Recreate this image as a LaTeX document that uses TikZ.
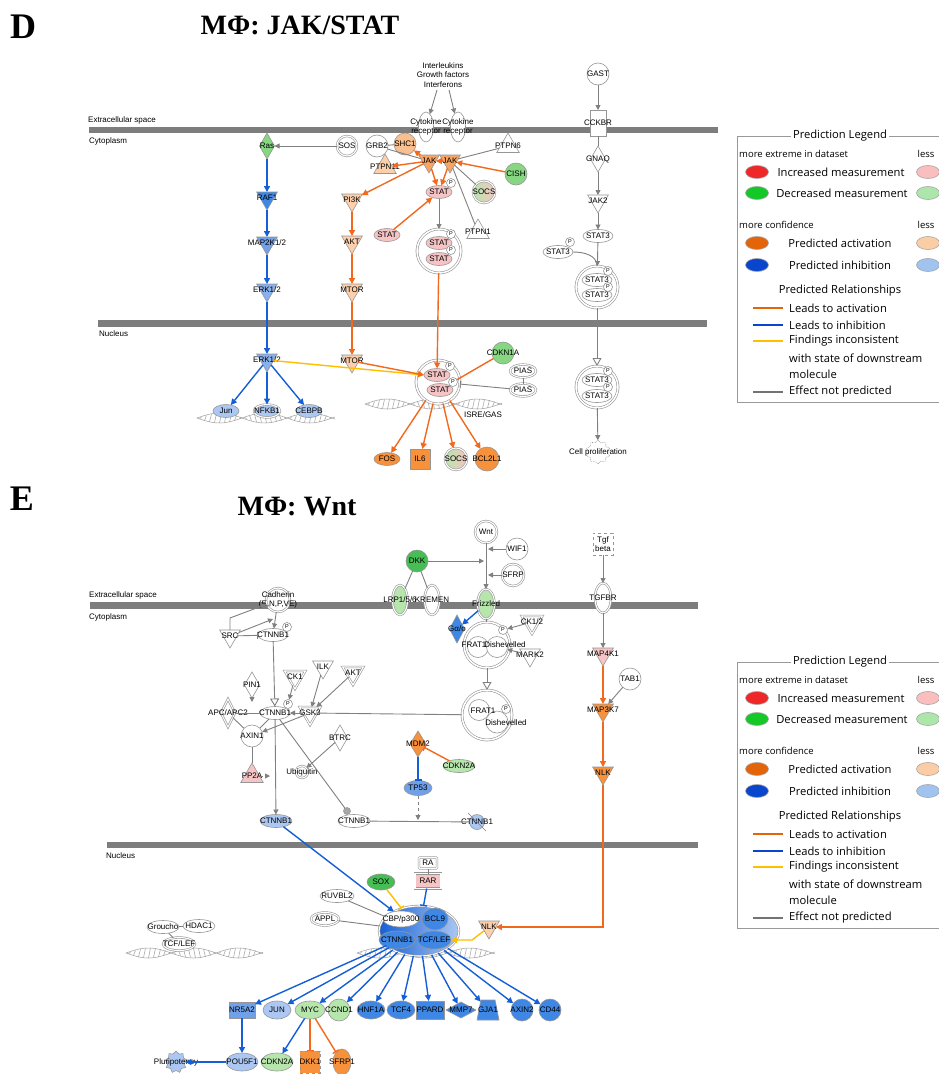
\documentclass[tikz,border=0pt]{standalone}
\usepackage{fontspec}
\setmainfont{Liberation Sans}
\newfontfamily\serifb{Liberation Serif}
\newfontfamily\legf{Open Sans}
\usetikzlibrary{shapes.geometric,arrows.meta,calc}
\definecolor{ndgray}{RGB}{150,150,150}
\definecolor{eg}{RGB}{128,128,128}
\definecolor{memb}{RGB}{125,125,125}
\definecolor{eo}{RGB}{242,105,30}
\definecolor{eb}{RGB}{20,95,215}
\definecolor{ey}{RGB}{255,190,0}
\definecolor{pinkL}{RGB}{246,196,196}
\definecolor{orngL}{RGB}{252,208,172}
\definecolor{orngM}{RGB}{248,165,100}
\definecolor{orngD}{RGB}{247,145,60}
\definecolor{grnL}{RGB}{182,230,172}
\definecolor{grnM}{RGB}{135,215,130}
\definecolor{grnD}{RGB}{70,190,85}
\definecolor{bluL}{RGB}{172,200,242}
\definecolor{bluM}{RGB}{112,160,232}
\definecolor{bluD}{RGB}{62,135,228}
\definecolor{lgRed}{RGB}{238,40,40}
\definecolor{lgRedL}{RGB}{250,190,190}
\definecolor{lgGrn}{RGB}{20,200,40}
\definecolor{lgGrnL}{RGB}{172,230,170}
\definecolor{lgOrn}{RGB}{228,100,10}
\definecolor{lgOrnL}{RGB}{251,205,165}
\definecolor{lgBlu}{RGB}{10,70,205}
\definecolor{lgBluL}{RGB}{160,195,240}
\tikzset{
  nb/.style={draw=ndgray, line width=0.6pt, inner sep=0pt, outer sep=0pt},
  every label/.style={font=\fontsize{8}{9}\selectfont, inner sep=0pt, align=center, text=black},
  txt/.style={font=\fontsize{8}{9.5}\selectfont, inner sep=0pt, align=center},
  el/.style={nb, ellipse, minimum width=26, minimum height=13, fill=white},
  ci/.style={nb, circle, minimum size=22, fill=white},
  tri/.style={nb, regular polygon, regular polygon sides=3, shape border rotate=180, minimum size=24, fill=white},
  trup/.style={nb, regular polygon, regular polygon sides=3, minimum size=26, fill=white},
  dia/.style={nb, diamond, minimum width=15, minimum height=26, fill=white},
  sq/.style={nb, rectangle, minimum width=20, minimum height=20, fill=white},
  dbl/.style={double=white, double distance=1.1pt},
  cx/.style={nb, circle, double=white, double distance=1.5pt, fill=white},
  pp/.style={nb, circle, minimum size=9, fill=white, font=\fontsize{5.5}{6}\selectfont},
  ge/.style={draw=eg, line width=0.9pt, -{Triangle[length=5pt,width=5pt]}},
  gl/.style={draw=eg, line width=0.9pt},
  gopen/.style={draw=eg, line width=0.9pt, -{Triangle[open,length=8pt,width=9pt]}},
  gbar/.style={draw=eg, line width=0.9pt, -{Bar[width=7pt]}},
  oe/.style={draw=eo, line width=1.4pt, -{Triangle[length=6pt,width=6pt]}},
  ol/.style={draw=eo, line width=1.4pt},
  obar/.style={draw=eo, line width=1.4pt, -{Bar[width=7pt]}},
  be/.style={draw=eb, line width=1.4pt, -{Triangle[length=6pt,width=6pt]}},
  bbar/.style={draw=eb, line width=1.4pt, -{Bar[width=7pt]}},
  ye/.style={draw=ey, line width=1.4pt, -{Triangle[length=6pt,width=6pt]}},
  ybar/.style={draw=ey, line width=1.4pt, -{Bar[width=7pt]}},
  helixc/.style={draw=gray!75, line width=0.5pt},
  legt/.style={font=\legf\fontsize{11.2}{13}\selectfont, inner sep=0pt},
  legs/.style={font=\legf\fontsize{9.5}{11}\selectfont, inner sep=0pt},
  lov/.style={ellipse, draw=gray!70, line width=0.6pt, minimum width=23, minimum height=13, inner sep=0pt},
  lgln/.style={line width=2.8pt},
  ttlf/.style={font=\serifb\bfseries\fontsize{28}{28}\selectfont, inner sep=0pt},
  bigl/.style={font=\serifb\bfseries\fontsize{36}{36}\selectfont, inner sep=0pt}
}
\newcommand{\dnahelix}[3]{%
  \draw[helixc] plot[domain=#1:#2, samples=90, smooth] (\x,{#3+5*sin((\x-#1)*4)});
  \draw[helixc] plot[domain=#1:#2, samples=90, smooth] (\x,{#3-5*sin((\x-#1)*4)});
  \pgfmathtruncatemacro\hnr{(#2-#1)/5}%
  \foreach \k in {1,...,\hnr}{%
    \pgfmathsetmacro\hxx{#1+5*\k-2.5}%
    \pgfmathsetmacro\hyy{5*sin((\hxx-#1)*4)}%
    \draw[helixc] (\hxx,{#3+\hyy}) -- (\hxx+2,{#3-\hyy});}%
}
\newcommand{\predlegend}[1]{%
  \draw[draw=gray!80, line width=0.8pt] (737,136) rectangle (960,402);
  \node[legt, fill=white, inner xsep=2pt] (#1ttl) at (840,136) {Prediction Legend};
  \node[legs, anchor=west] (#1me) at (739,154) {more extreme in dataset};
  \node[legs] (#1ls1) at (926,154) {less};
  \node[lov, fill=lgRed] (#1o1) at (757,172) {};
  \node[legt] (#1t1) at (841,172) {Increased measurement};
  \node[lov, fill=lgRedL] (#1o1l) at (928,172) {};
  \node[lov, fill=lgGrn] (#1o2) at (757,193) {};
  \node[legt] (#1t2) at (842,193) {Decreased measurement};
  \node[lov, fill=lgGrnL] (#1o2l) at (928,193) {};
  \node[legs, anchor=west] (#1mc) at (739,225) {more confidence};
  \node[legs] (#1ls2) at (926,225) {less};
  \node[lov, fill=lgOrn] (#1o3) at (757,243) {};
  \node[legt] (#1t3) at (840,243) {Predicted activation};
  \node[lov, fill=lgOrnL] (#1o3l) at (928,243) {};
  \node[lov, fill=lgBlu] (#1o4) at (757,265) {};
  \node[legt] (#1t4) at (840,265) {Predicted inhibition};
  \node[lov, fill=lgBluL] (#1o4l) at (928,265) {};
  \node[legt] (#1pr) at (840,291) {Predicted Relationships};
  \draw[lgln, draw=lgOrn] (753,308) -- (783,308);
  \node[legt, anchor=west] (#1r1) at (789,308) {Leads to activation};
  \draw[lgln, draw=lgBlu] (753,325) -- (783,325);
  \node[legt, anchor=west] (#1r2) at (789,325) {Leads to inhibition};
  \draw[lgln, draw=ey] (753,341) -- (783,341);
  \node[legt, anchor=west] (#1r3) at (789,341) {Findings inconsistent};
  \node[legt, anchor=west] (#1r3b) at (789,358) {with state of downstream};
  \node[legt, anchor=west] (#1r3c) at (789,374) {molecule};
  \draw[lgln, draw=gray!90!black] (753,392) -- (783,392);
  \node[legt, anchor=west] (#1r4) at (789,392) {Effect not predicted};
}
\begin{document}
\begin{tikzpicture}[x=1pt,y=-1pt]
\useasboundingbox (0,0) rectangle (938,1074);
\fill[white] (0,0) rectangle (938,1074);

% ================= PANEL D =================
\node[bigl] (lblD) at (23,27) {D};
\node[ttlf] (ttlD) at (300,25) {MΦ: JAK/STAT};
\fill[memb] (89,127) rectangle (718,133);
\node[txt, anchor=west] (ecsD) at (88,120) {Extracellular space};
\node[txt, anchor=west] (cytD) at (89,141) {Cytoplasm};
\fill[memb] (98,320) rectangle (707,327);
\node[txt, anchor=west] (nucD) at (99,334) {Nucleus};
\dnahelix{197}{335}{418}
\dnahelix{365}{502}{404}

\node[dia, fill=grnM, label=center:Ras] (ras) at (267,146) {};
\node[ci, dbl, minimum size=20, label=center:SOS] (sos) at (347,146) {};
\node[ci, label=center:GRB2] (grb2) at (377,146) {};
\node[ci, fill=orngL!60!orngM, label=center:SHC1] (shc1) at (405,144) {};
\node[trup, fill=orngL, label=center:PTPN11] (ptpn11) at (385,167) {};
\node[el, minimum width=15, minimum height=30, label={center:{Cytokine\\receptor}}] (cr1) at (426,127) {};
\node[el, minimum width=15, minimum height=30, label={center:{Cytokine\\receptor}}] (cr2) at (458,127) {};
\node[txt] (ilg) at (443,75) {Interleukins\\Growth factors\\Interferons};
\coordinate (ilg1) at (437,90);
\coordinate (ilg2) at (449,90);
\node[tri, fill=orngM, label=center:JAK] (jak1) at (429,161) {};
\node[tri, fill=orngM, label=center:JAK] (jak2) at (450,161) {};
\node[trup, label=center:PTPN6] (ptpn6) at (508,146) {};
\node[ci, fill=grnM, label=center:CISH] (cish) at (516,174) {};
\node[ci, dbl, left color=grnL, right color=pinkL, label=center:SOCS] (socs1) at (484,192) {};
\node[trup, label=center:PTPN1] (ptpn1) at (478,232) {};
\node[el, fill=pinkL, label=center:STAT] (stat1) at (439,192) {};
\node[pp] (p1) at (451,183) {P};
\node[el, fill=pinkL, label=center:STAT] (stat2) at (387,235) {};
\node[cx, minimum size=44] (cxA) at (439,251) {};
\node[el, fill=pinkL, label=center:STAT] (sa1) at (439,243) {};
\node[el, fill=pinkL, label=center:STAT] (sa2) at (439,259) {};
\node[pp] (pa1) at (451,234) {P};
\node[pp] (pa2) at (451,250) {P};
\node[tri, fill=orngL, label=center:PI3K] (pi3k) at (352,200) {};
\node[tri, fill=orngL, label=center:AKT] (aktD) at (352,242) {};
\node[tri, fill=orngL, label=center:MTOR] (mtor1) at (352,290) {};
\node[tri, fill=bluD, label=center:RAF1] (raf1) at (267,198) {};
\node[tri, fill=bluM, label=center:MAP2K1/2] (map2k) at (267,243) {};
\node[tri, fill=bluM!60!bluL, label=center:ERK1/2] (erk1) at (267,290) {};
\node[tri, fill=bluM!60!bluL, label=center:ERK1/2] (erk2) at (267,360) {};
\node[tri, fill=orngL, label=center:MTOR] (mtor2) at (352,361) {};
\node[el, fill=bluL, label=center:Jun] (jun) at (226,411) {};
\node[el, dbl, fill=bluL, label=center:NFKB1] (nfkb1) at (267,411) {};
\node[el, fill=bluL, label=center:CEBPB] (cebpb) at (309,411) {};
\node[cx, minimum size=44] (cxB) at (438,382) {};
\node[el, fill=pinkL, label=center:STAT] (sb1) at (437,375) {};
\node[el, fill=pinkL, label=center:STAT] (sb2) at (440,390) {};
\node[pp] (pb1) at (450,366) {P};
\node[pp] (pb2) at (453,382) {P};
\node[ci, fill=grnM, label=center:CDKN1A] (cdkn1a) at (503,353) {};
\node[el, dbl, label=center:PIAS] (pias1) at (523,371) {};
\node[el, dbl, label=center:PIAS] (pias2) at (523,390) {};
\node[txt] (isre) at (483,415) {ISRE/GAS};
\node[el, fill=orngD, label=center:FOS] (fos) at (387,459) {};
\node[sq, fill=orngD, label=center:IL6] (il6) at (420,459) {};
\node[ci, dbl, left color=grnL, right color=pinkL, label=center:SOCS] (socs2) at (456,459) {};
\node[ci, fill=orngD, minimum size=24, label=center:BCL2L1] (bcl2l1) at (487,459) {};
\node[ci, label=center:GAST] (gast) at (598,74) {};
\node[sq, minimum width=16, minimum height=26, label=center:CCKBR] (cckbr) at (598,123) {};
\node[dia, label=center:GNAQ] (gnaq) at (598,159) {};
\node[tri, label=center:JAK2] (jak2b) at (598,201) {};
\node[el, minimum width=30, label=center:STAT3] (stat3a) at (598,236) {};
\node[el, minimum width=30, label=center:STAT3] (stat3p) at (558,252) {};
\node[pp] (p3) at (570,242) {P};
\node[cx, minimum size=42] (cxC) at (597,287) {};
\node[el, minimum width=30, label=center:STAT3] (sc1) at (597,280) {};
\node[el, minimum width=30, label=center:STAT3] (sc2) at (597,295) {};
\node[pp] (pc1) at (608,271) {P};
\node[pp] (pc2) at (608,287) {P};
\node[cx, minimum size=42] (cxD) at (597,387) {};
\node[el, minimum width=30, label=center:STAT3] (sd1) at (597,380) {};
\node[el, minimum width=30, label=center:STAT3] (sd2) at (597,396) {};
\node[pp] (pd1) at (608,371) {P};
\node[pp] (pd2) at (608,387) {P};
\node[nb, star, star points=10, star point ratio=1.25, densely dotted, minimum size=24, fill=white, label=center:Cell proliferation] (cellp) at (598,452) {};

% edges D
\draw[ge] (ilg1) -- (cr1);
\draw[ge] (ilg2) -- (cr2);
\draw[ge] (sos) -- (ras);
\draw[gl] (grb2) -- (shc1);
\draw[gl] (grb2) -- (jak1);
\draw[oe] (jak1) -- (shc1);
\draw[oe] (jak1) -- (ptpn11);
\draw[oe] (jak1) -- (pi3k);
\draw[oe] (jak2) -- (jak1);
\draw[oe] (jak1) -- (stat1);
\draw[oe] (jak2) -- (stat1);
\draw[oe] (cish) -- (jak2);
\draw[gl] (ptpn6) -- (jak2);
\draw[gl] (socs1) -- (jak2);
\draw[gl] (ptpn1) -- (jak2);
\draw[oe] (stat2) -- (stat1);
\draw[ge] (stat1) -- (cxA);
\draw[oe] (cxA) -- (sb1);
\draw[be] (ras) -- (raf1);
\draw[be] (raf1) -- (map2k);
\draw[be] (map2k) -- (erk1);
\draw[be] (erk1) -- (erk2);
\draw[be] (erk2) -- (jun);
\draw[be] (erk2) -- (nfkb1);
\draw[be] (erk2) -- (cebpb);
\draw[oe] (pi3k) -- (aktD);
\draw[oe] (aktD) -- (mtor1);
\draw[oe] (mtor1) -- (mtor2);
\draw[ye] (erk2) -- (sb1.west);
\draw[oe] (mtor2) -- (sb1.west);
\draw[ol] (cdkn1a) -- (pb2);
\draw[gl] (pias1) -- (pias2);
\draw[gbar] (pias2) -- (cxB);
\draw[oe] (cxB) -- (fos);
\draw[oe] (cxB) -- (il6);
\draw[oe] (cxB) -- (socs2);
\draw[oe] (cxB) -- (bcl2l1);
\draw[ge] (gast) -- (cckbr);
\draw[gl] (cckbr) -- (gnaq);
\draw[ge] (gnaq) -- (jak2b);
\draw[ge] (jak2b) -- (stat3a);
\draw[ge] (stat3a) -- (cxC);
\draw[gl] (stat3p.east) to[out=0,in=90] (cxC.north);
\draw[gopen] (cxC) -- (cxD);
\draw[ge] (cxD) -- (cellp);

\predlegend{a}

% ================= PANEL E =================
\node[bigl] (lblE) at (22,499) {E};
\node[ttlf] (ttlE) at (297,507) {MΦ: Wnt};
\fill[memb] (90,602) rectangle (698,609);
\node[txt, anchor=west] (ecsE) at (89,595) {Extracellular space};
\node[txt, anchor=west] (cytE) at (89,617) {Cytoplasm};
\fill[memb] (107,842) rectangle (698,848);
\node[txt, anchor=west] (nucE) at (106,856) {Nucleus};
\dnahelix{126}{263}{953}
\dnahelix{357}{495}{953}

\node[ci, dbl, minimum size=24, label={center:{Cadherin\\(E,N,P,VE)}}] (cad) at (278,600) {};
\node[tri, label=center:SRC] (src) at (230,636) {};
\node[el, minimum width=30, label=center:CTNNB1] (ctnP) at (273,635) {};
\node[pp] (pP) at (287,627) {P};
\node[dia, label=center:PIN1] (pin1) at (252,685) {};
\node[tri, dbl, label=center:CK1] (ck1) at (295,677) {};
\node[tri, label=center:ILK] (ilk) at (323,667) {};
\node[tri, dbl, label=center:AKT] (aktE) at (353,673) {};
\node[dia, dbl, minimum width=14, minimum height=28, label=center:APC/APC2] (apc) at (228,713) {};
\node[el, minimum width=30, label=center:CTNNB1] (ctnC) at (275,713) {};
\node[pp] (pC) at (288,704) {P};
\node[tri, dbl, label=center:GSK3] (gsk3) at (310,713) {};
\node[ci, label=center:AXIN1] (axin1) at (252,736) {};
\node[dia, label=center:BTRC] (btrc) at (340,738) {};
\node[trup, fill=pinkL, label=center:PP2A] (pp2a) at (252,776) {};
\node[ci, dbl, minimum size=12, label=center:Ubiquitin] (ubq) at (302,772) {};
\node[el, fill=bluL, minimum width=32, label=center:CTNNB1] (ctnB) at (276,821) {};
\node[nb, circle, fill=gray!70, minimum size=7] (degr) at (347,811) {};
\node[el, minimum width=32, label=center:CTNNB1] (ctnW) at (354,821) {};
\node[ci, fill=bluL, minimum size=15, label=center:CTNNB1] (ctnX) at (477,822) {};
\draw[eg, line width=0.6pt] ($(ctnX)+(-9,-9)$) -- ($(ctnX)+(9,9)$);
\node[dia, fill=orngD, minimum width=16, label=center:MDM2] (mdm2) at (418,744) {};
\node[el, fill=grnL, minimum width=32, label=center:CDKN2A] (cdkn2a) at (459,766) {};
\node[el, fill=bluM, minimum width=28, minimum height=15, label=center:TP53] (tp53) at (418,788) {};
\node[ci, dbl, label=center:Wnt] (wnt) at (486,532) {};
\node[ci, label=center:WIF1] (wif1) at (517,549) {};
\node[ci, dbl, label=center:SFRP] (sfrp) at (513,575) {};
\node[ci, fill=grnD, label=center:DKK] (dkk) at (417,561) {};
\node[el, dbl, fill=grnL, minimum width=15, minimum height=30, label=center:LRP1/5/6] (lrp) at (400,600) {};
\node[el, dbl, minimum width=15, minimum height=30, label=center:KREMEN] (krem) at (432,600) {};
\node[el, dbl, fill=grnL, minimum width=17, minimum height=30, label=center:Frizzled] (frz) at (486,604) {};
\node[dia, fill=bluD, minimum width=15, minimum height=28, label=center:Gα/o] (gao) at (457,629) {};
\node[cx, minimum size=46] (cx1) at (487,645) {};
\node[nb, circle, minimum size=21, fill=white] (fr1) at (478,647) {};
\node[nb, circle, minimum size=21, fill=white] (ds1) at (497,647) {};
\node[txt] (fr1t) at (474,645) {FRAT1};
\node[txt] (ds1t) at (505,645) {Dishevelled};
\node[pp] (pE1) at (503,630) {P};
\node[tri, dbl, label=center:CK1/2] (ck12) at (532,622) {};
\node[tri, label=center:MARK2] (mark2) at (530,655) {};
\node[cx, minimum size=50] (cx2) at (487,715) {};
\node[nb, circle, minimum size=21, fill=white] (fr2) at (479,710) {};
\node[nb, circle, minimum size=22, fill=white] (ds2) at (497,722) {};
\node[txt] (fr2t) at (483,711) {FRAT1};
\node[txt] (ds2t) at (506,723) {Dishevelled};
\node[pp] (pE2) at (506,709) {P};
\node[sq, dashed, minimum width=20, minimum height=22, label={center:{Tgf\\beta}}] (tgfb) at (603,544) {};
\node[el, dbl, minimum width=16, minimum height=30, label=center:TGFBR] (tgfbr) at (603,598) {};
\node[tri, fill=pinkL, label=center:MAP4K1] (map4k1) at (603,654) {};
\node[ci, label=center:TAB1] (tab1) at (630,679) {};
\node[tri, fill=orngD, label=center:MAP3K7] (map3k7) at (603,710) {};
\node[tri, fill=orngD, label=center:NLK] (nlk1) at (603,773) {};
\node[tri, fill=orngL, label=center:NLK] (nlk2) at (489,927) {};
\node[nb, rectangle, dbl, fill=white, rounded corners=1pt, minimum width=18, minimum height=11, label=center:RA] (ra) at (428,863) {};
\node[nb, rectangle, dbl, fill=pinkL, minimum width=26, minimum height=15, label=center:RAR] (rar) at (428,881) {};
\node[el, fill=grnD, minimum width=28, minimum height=16, label=center:SOX] (sox) at (381,882) {};
\node[el, minimum width=34, label=center:RUVBL2] (ruvbl2) at (337,896) {};
\node[el, dbl, minimum width=28, label=center:APPL] (appl) at (325,919) {};
\node[nb, ellipse, dbl, left color=eb, right color=bluL, minimum width=80, minimum height=50] (bigcx) at (419,931) {};
\node[el, minimum width=36, minimum height=16, label=center:CBP/p300] (cbp) at (401,919) {};
\node[el, fill=bluD, minimum width=26, minimum height=22, label=center:BCL9] (bcl9) at (435,919) {};
\node[el, fill=bluD, minimum width=36, minimum height=18, label=center:CTNNB1] (ctnb) at (397,940) {};
\node[el, fill=bluD, minimum width=34, minimum height=18, label=center:TCF/LEF] (tcf) at (434,940) {};
\node[el, minimum width=32, label=center:Groucho] (groucho) at (163,927) {};
\node[el, minimum width=32, label=center:HDAC1] (hdac1) at (199,926) {};
\node[el, dbl, minimum width=32, label=center:TCF/LEF] (tcf2) at (179,944) {};
% targets
\node[sq, fill=bluM, minimum width=26, minimum height=16, label=center:NR5A2] (nr5a2) at (242,1010) {};
\node[el, fill=bluL, minimum width=28, minimum height=18, label=center:JUN] (jun2) at (277,1010) {};
\node[el, fill=grnL, minimum width=30, minimum height=18, label=center:MYC] (myc) at (310,1010) {};
\node[ci, fill=grnL, label=center:CCND1] (ccnd1) at (339,1010) {};
\node[el, fill=bluD, minimum width=28, minimum height=18, label=center:HNF1A] (hnf1a) at (371,1010) {};
\node[el, fill=bluD, minimum width=28, minimum height=18, label=center:TCF4] (tcf4) at (401,1010) {};
\node[sq, fill=bluD, minimum width=28, minimum height=18, label=center:PPARD] (ppard) at (430,1010) {};
\node[nb, diamond, fill=bluD, minimum width=30, minimum height=16, label=center:MMP7] (mmp7) at (461,1010) {};
\node[nb, trapezium, trapezium stretches=true, trapezium left angle=75, trapezium right angle=75, inner sep=2pt, fill=bluD, minimum width=22, minimum height=20, label=center:GJA1] (gja1) at (488,1010) {\phantom{x}};
\node[ci, fill=bluD, label=center:AXIN2] (axin2) at (522,1010) {};
\node[ci, fill=bluD, label=center:CD44] (cd44) at (550,1010) {};
\node[nb, star, star points=9, star point ratio=1.3, fill=bluL, minimum size=22, label=center:Pluripotency] (plur) at (176,1062) {};
\node[el, fill=bluL, minimum width=32, minimum height=18, label=center:POU5F1] (pou5f1) at (242,1062) {};
\node[el, fill=grnL, minimum width=32, minimum height=18, label=center:CDKN2A] (cdkn2a2) at (277,1062) {};
\node[sq, dashed, fill=orngD, minimum width=20, minimum height=22, label=center:DKK1] (dkk1) at (310,1062) {};
\node[el, fill=orngD, minimum width=18, minimum height=26, label=center:SFRP1] (sfrp1) at (342,1062) {};

% edges E
\coordinate (wj1) at (488,549);
\coordinate (wj2) at (488,575);
\coordinate (wj3) at (484,561);
\draw[ge] (wnt) -- (frz);
\draw[ge] (wif1) -- (wj1);
\draw[ge] (sfrp) -- (wj2);
\draw[ge] (dkk) -- (wj3);
\draw[gl] (dkk) -- (lrp);
\draw[gl] (dkk) -- (krem);
\draw[be] (frz) -- (gao);
\draw[gl] (frz) -- (cx1);
\draw[ge] (ck12) -- (pE1);
\draw[ge] (mark2) -- (ds1);
\draw[gopen] (cx1) -- (cx2);
\draw[gl] (gsk3) -- (cx2);
\coordinate (srcc) at (230,618);
\coordinate (srcj) at (273,619);
\draw[ge] (src.north) -- (srcc) -- (cad);
\draw[ge] (src) -- (srcj);
\draw[gbar] (src) -- (ctnP);
\draw[ge] (cad) -- (ctnP);
\draw[gopen] (ctnP) -- (ctnC);
\coordinate (pinj) at (252,702);
\draw[ge] (pin1) -- (pinj);
\draw[ge] (ck1) -- (pC);
\draw[ge] (ilk) -- (gsk3);
\draw[ge] (aktE) -- (gsk3);
\draw[ge] (gsk3) -- (ctnC);
\draw[ge] (gsk3) -- (axin1);
\draw[gl] (apc) -- (ctnC);
\draw[gl] (apc) -- (axin1);
\draw[gl] (ctnC) -- (axin1);
\draw[gl] (axin1) -- (pp2a);
\coordinate (ppj) at (270,776);
\draw[ge, dashed] (pp2a) -- (ppj);
\draw[ge] (btrc) -- (ubq);
\draw[ge] (ctnC) -- (ctnB);
\draw[gl] (ctnC) -- (degr);
\draw[gl] (ctnW) -- (ctnX);
\draw[obar] (cdkn2a) -- (mdm2);
\draw[bbar] (mdm2) -- (tp53);
\coordinate (tpj) at (418,820);
\draw[ge, dashed] (tp53) -- (tpj);
\draw[be] (ctnB) -- (bigcx);
\draw[ge] (tgfb) -- (tgfbr);
\draw[ge] (tgfbr) -- (map4k1);
\draw[oe] (map4k1) -- (map3k7);
\draw[ge] (tab1) -- (map3k7);
\draw[oe] (map3k7) -- (nlk1);
\draw[oe] (nlk1) |- (nlk2);
\coordinate (yj) at (472,940);
\draw[ye] (nlk2) -- (yj) -- (tcf);
\draw[gl] (ra) -- (rar);
\draw[bbar] (rar) -- (bigcx);
\draw[ybar] (sox) -- (bigcx);
\draw[gl] (ruvbl2) -- (bigcx);
\draw[gl] (appl) -- (bigcx);
\draw[gl] (groucho) -- (hdac1);
\draw[gl] (groucho) -- (tcf2);
\foreach \t in {nr5a2,jun2,myc,ccnd1,hnf1a,tcf4,ppard,mmp7,gja1,axin2,cd44}
  \draw[be] (bigcx) -- (\t);
\draw[be] (nr5a2) -- (pou5f1);
\draw[be] (pou5f1) -- (plur);
\draw[be] (myc) -- (cdkn2a2);
\draw[obar] (myc) -- (dkk1);
\draw[obar] (myc) -- (sfrp1);

\begin{scope}[shift={(0,526)}]
\predlegend{b}
\end{scope}
\end{tikzpicture}
\end{document}
